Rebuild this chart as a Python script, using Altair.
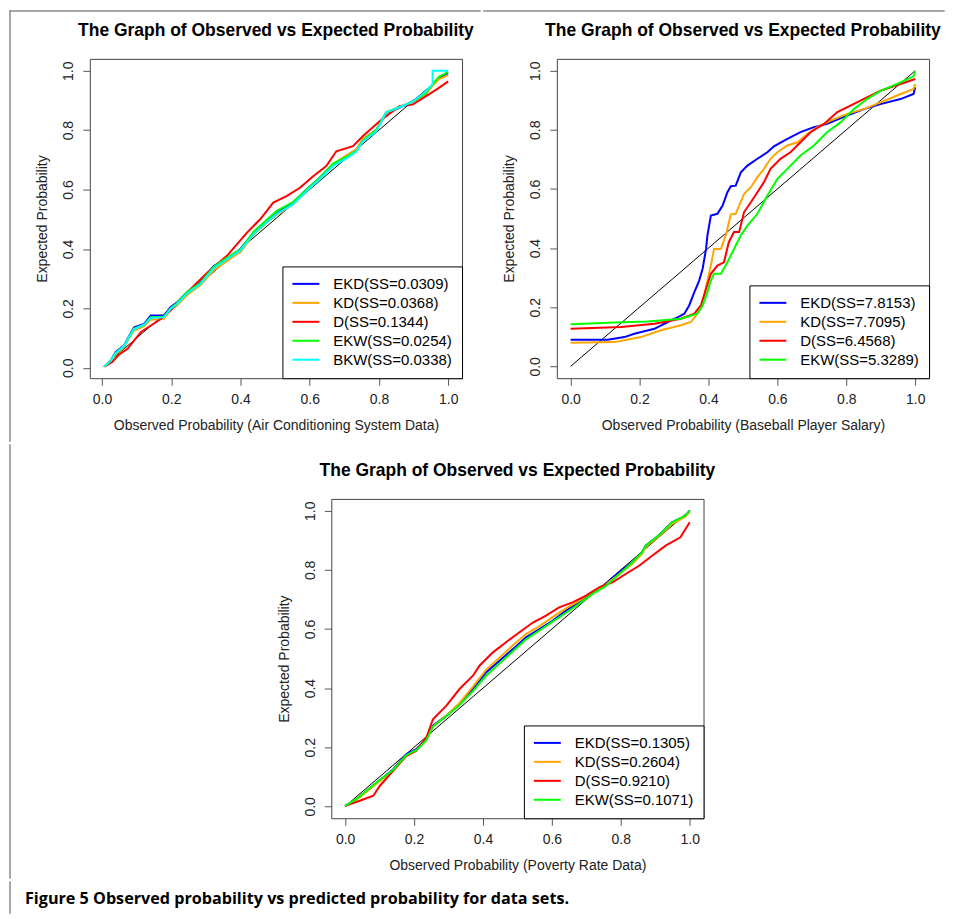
import altair as alt
import pandas as pd

FONT = "Liberation Sans"
TITLE = "The Graph of Observed vs Expected Probability"
Y_TITLE = "Expected Probability"
CAPTION = "Figure 5 Observed probability vs predicted probability for data sets."
TICKS = [0.0, 0.2, 0.4, 0.6, 0.8, 1.0]
COLORS = ["#0000FF", "#FFA500", "#FF0000", "#00FF00", "#00FFFF"]

# ---------------- Panel 1: Air Conditioning System Data ----------------
P1_NAMES = ["EKD(SS=0.0309)", "KD(SS=0.0368)", "D(SS=0.1344)", "EKW(SS=0.0254)", "BKW(SS=0.0338)"]
P1_X = [0.007, 0.026, 0.04, 0.064, 0.079, 0.093, 0.122, 0.141, 0.179, 0.198, 0.217, 0.246, 0.284,
        0.323, 0.38, 0.40, 0.438, 0.476, 0.505, 0.552, 0.591, 0.629, 0.668, 0.706, 0.735, 0.754,
        0.792, 0.821, 0.859, 0.897, 0.935, 0.955, 0.974, 1.0]
P1_EKD = [0.004, 0.025, 0.053, 0.075, 0.108, 0.136, 0.148, 0.176, 0.176, 0.204, 0.22, 0.254, 0.288,
          0.343, 0.383, 0.40, 0.455, 0.494, 0.522, 0.556, 0.60, 0.64, 0.684, 0.712, 0.735, 0.768,
          0.80, 0.858, 0.875, 0.897, 0.925, 0.953, 0.976, 0.992]
P1_KD = [0.004, 0.022, 0.045, 0.07, 0.10, 0.125, 0.14, 0.162, 0.165, 0.195, 0.21, 0.245, 0.278,
         0.328, 0.375, 0.39, 0.448, 0.488, 0.515, 0.55, 0.595, 0.637, 0.685, 0.715, 0.735, 0.77,
         0.80, 0.86, 0.878, 0.895, 0.92, 0.95, 0.972, 0.985]
P1_EKW = [0.004, 0.025, 0.05, 0.073, 0.105, 0.132, 0.145, 0.17, 0.172, 0.20, 0.218, 0.255, 0.285,
          0.34, 0.385, 0.398, 0.458, 0.498, 0.528, 0.558, 0.60, 0.64, 0.688, 0.71, 0.73, 0.765,
          0.80, 0.86, 0.877, 0.895, 0.923, 0.955, 0.98, 0.995]
P1_D_X = [0.007, 0.03, 0.05, 0.074, 0.112, 0.17, 0.20, 0.246, 0.304, 0.361, 0.419, 0.457, 0.495,
          0.533, 0.572, 0.61, 0.648, 0.677, 0.725, 0.754, 0.802, 0.821, 0.859, 0.897, 0.935, 0.97, 1.0]
P1_D = [0.004, 0.02, 0.045, 0.064, 0.12, 0.164, 0.195, 0.254, 0.32, 0.377, 0.455, 0.50, 0.556,
        0.578, 0.606, 0.645, 0.679, 0.729, 0.746, 0.78, 0.83, 0.847, 0.881, 0.886, 0.914, 0.94, 0.964]
P1_BKW_X = [0.007, 0.026, 0.04, 0.064, 0.079, 0.093, 0.122, 0.141, 0.179, 0.198, 0.217, 0.246, 0.284,
            0.323, 0.38, 0.40, 0.438, 0.476, 0.505, 0.552, 0.591, 0.629, 0.668, 0.706, 0.735, 0.754,
            0.792, 0.821, 0.859, 0.897, 0.935, 0.955, 0.955, 1.0]
P1_BKW = [0.004, 0.024, 0.05, 0.072, 0.105, 0.13, 0.145, 0.168, 0.17, 0.198, 0.215, 0.25, 0.282,
          0.335, 0.38, 0.395, 0.45, 0.49, 0.518, 0.55, 0.595, 0.635, 0.68, 0.705, 0.728, 0.762,
          0.795, 0.86, 0.877, 0.895, 0.93, 0.955, 1.0, 1.0]
P1_DIAG = [0.005, 1.0]

# ---------------- Panel 2: Baseball Player Salary ----------------
P2_NAMES = ["EKD(SS=7.8153)", "KD(SS=7.7095)", "D(SS=6.4568)", "EKW(SS=5.3289)"]
P2_EKD_X = [0.0, 0.108, 0.156, 0.185, 0.243, 0.282, 0.313, 0.33, 0.344, 0.359, 0.373, 0.383, 0.393,
            0.397, 0.407, 0.426, 0.441, 0.455, 0.465, 0.479, 0.494, 0.513, 0.542, 0.571, 0.59, 0.629,
            0.667, 0.706, 0.744, 0.802, 0.851, 0.899, 0.957, 0.995, 1.0]
P2_EKD = [0.09, 0.09, 0.099, 0.11, 0.127, 0.15, 0.167, 0.178, 0.206, 0.251, 0.29, 0.33, 0.397,
          0.443, 0.51, 0.516, 0.544, 0.589, 0.609, 0.611, 0.656, 0.679, 0.702, 0.724, 0.744, 0.769,
          0.792, 0.809, 0.82, 0.848, 0.87, 0.887, 0.904, 0.921, 0.944]
P2_KD_X = [0.0, 0.127, 0.204, 0.262, 0.32, 0.349, 0.368, 0.383, 0.397, 0.407, 0.416, 0.436, 0.45,
           0.465, 0.479, 0.503, 0.523, 0.542, 0.561, 0.58, 0.60, 0.629, 0.658, 0.687, 0.716, 0.754,
           0.802, 0.851, 0.899, 0.947, 0.995, 1.0]
P2_KD = [0.08, 0.082, 0.099, 0.122, 0.139, 0.15, 0.178, 0.212, 0.29, 0.341, 0.397, 0.397, 0.443,
         0.514, 0.516, 0.583, 0.606, 0.64, 0.668, 0.702, 0.724, 0.747, 0.758, 0.786, 0.809, 0.831,
         0.854, 0.87, 0.893, 0.916, 0.938, 0.955]
P2_D_X = [0.0, 0.147, 0.243, 0.32, 0.359, 0.378, 0.393, 0.407, 0.426, 0.445, 0.459, 0.474, 0.489,
          0.503, 0.523, 0.542, 0.561, 0.58, 0.609, 0.638, 0.667, 0.696, 0.735, 0.774, 0.812, 0.86,
          0.899, 0.957, 1.0]
P2_D = [0.127, 0.133, 0.144, 0.161, 0.178, 0.206, 0.262, 0.313, 0.341, 0.352, 0.42, 0.454, 0.454,
        0.521, 0.555, 0.589, 0.623, 0.668, 0.702, 0.724, 0.758, 0.792, 0.82, 0.86, 0.882, 0.91,
        0.932, 0.955, 0.972]
P2_EKW_X = [0.0, 0.127, 0.224, 0.32, 0.368, 0.383, 0.397, 0.407, 0.416, 0.436, 0.455, 0.474, 0.494,
            0.513, 0.542, 0.571, 0.60, 0.629, 0.667, 0.706, 0.744, 0.783, 0.822, 0.86, 0.899, 0.947,
            0.995, 1.0]
P2_EKW = [0.142, 0.148, 0.152, 0.161, 0.178, 0.206, 0.251, 0.29, 0.313, 0.313, 0.352, 0.397, 0.443,
          0.476, 0.516, 0.578, 0.634, 0.668, 0.713, 0.747, 0.792, 0.825, 0.87, 0.904, 0.932, 0.955,
          0.981, 0.998]
P2_DIAG = [0.0, 1.0]

# ---------------- Panel 3: Poverty Rate Data ----------------
P3_NAMES = ["EKD(SS=0.1305)", "KD(SS=0.2604)", "D(SS=0.9210)", "EKW(SS=0.1071)"]
P3_X = [0.0, 0.034, 0.092, 0.14, 0.178, 0.207, 0.236, 0.255, 0.294, 0.332, 0.371, 0.409, 0.448,
        0.487, 0.525, 0.564, 0.602, 0.641, 0.679, 0.717, 0.756, 0.795, 0.833, 0.862, 0.872, 0.91,
        0.949, 0.987, 1.0]
P3_EKD = [0.002, 0.025, 0.081, 0.126, 0.177, 0.194, 0.228, 0.273, 0.307, 0.346, 0.397, 0.453, 0.493,
          0.532, 0.572, 0.60, 0.628, 0.662, 0.69, 0.724, 0.752, 0.792, 0.826, 0.86, 0.882, 0.916,
          0.961, 0.983, 1.0]
P3_KD = [0.002, 0.023, 0.078, 0.122, 0.173, 0.19, 0.225, 0.27, 0.307, 0.35, 0.405, 0.462, 0.503,
         0.545, 0.583, 0.61, 0.64, 0.67, 0.695, 0.726, 0.75, 0.785, 0.82, 0.855, 0.878, 0.913,
         0.955, 0.98, 0.997]
P3_EKW = [0.002, 0.026, 0.082, 0.124, 0.174, 0.19, 0.224, 0.27, 0.305, 0.343, 0.39, 0.442, 0.483,
          0.525, 0.565, 0.595, 0.625, 0.655, 0.685, 0.718, 0.745, 0.785, 0.825, 0.86, 0.882, 0.916,
          0.961, 0.983, 1.0]
P3_D_X = [0.0, 0.043, 0.082, 0.101, 0.14, 0.178, 0.207, 0.236, 0.255, 0.294, 0.332, 0.371, 0.39,
          0.429, 0.467, 0.506, 0.545, 0.583, 0.621, 0.66, 0.699, 0.737, 0.776, 0.814, 0.853, 0.891,
          0.93, 0.973, 1.0]
P3_D = [0.002, 0.019, 0.036, 0.07, 0.121, 0.171, 0.188, 0.234, 0.295, 0.341, 0.397, 0.442, 0.476,
        0.521, 0.555, 0.589, 0.622, 0.645, 0.673, 0.69, 0.713, 0.741, 0.758, 0.786, 0.814, 0.848,
        0.882, 0.91, 0.961]
P3_DIAG = [0.0, 1.0]

FRAME_COLOR = "#8a8a8a"
ONE = pd.DataFrame({"k": [0]})
W, H = 373, 320
NO_STROKE = alt.ViewBackground(stroke="transparent", strokeWidth=0)


def panel(series, names, diag, xdomain, ydomain, xtitle, extras):
    colors = COLORS[:len(names)]
    xscale = alt.Scale(domain=xdomain, nice=False, zero=False)
    yscale = alt.Scale(domain=ydomain, nice=False, zero=False)
    xaxis = alt.Axis(values=TICKS, format=".1f", title=xtitle, domain=False, grid=False,
                     tickColor="#555", tickSize=7, tickWidth=1,
                     labelFont=FONT, labelFontSize=14, labelColor="#222", labelPadding=7,
                     titleFont=FONT, titleFontSize=14, titleFontWeight="normal",
                     titleColor="#222", titlePadding=12)
    yaxis = alt.Axis(values=TICKS, format=".1f", title=Y_TITLE, domain=False, grid=False,
                     tickColor="#555", tickSize=7, tickWidth=1,
                     labelFont=FONT, labelFontSize=14, labelColor="#222", labelPadding=14,
                     labelAngle=270, labelAlign="center", labelBaseline="middle",
                     titleFont=FONT, titleFontSize=14, titleFontWeight="normal",
                     titleColor="#222", titlePadding=12)
    X = alt.X("x:Q", scale=xscale, axis=xaxis)
    Y = alt.Y("y:Q", scale=yscale, axis=yaxis)
    legend = alt.Legend(orient="bottom-right", offset=0, title=None,
                        strokeColor="black", fillColor="white",
                        padding=10, rowPadding=3,
                        symbolType="M-3,0H3", symbolSize=81, symbolStrokeWidth=2,
                        symbolOffset=6, labelOffset=20,
                        labelFont=FONT, labelFontSize=15, labelColor="black", labelLimit=0)
    color_scale = alt.Scale(domain=names, range=colors)

    layers = [alt.Chart(pd.DataFrame({"x": diag, "y": diag}))
              .mark_line(color="black", strokeWidth=1)
              .encode(x=X, y=Y)]
    for name, xs, ys in series:
        df = pd.DataFrame({"x": xs, "y": ys, "series": [name] * len(xs), "i": list(range(len(xs)))})
        layers.append(
            alt.Chart(df).mark_line(strokeWidth=2).encode(
                x=X, y=Y, order="i:Q",
                color=alt.Color("series:N", scale=color_scale, legend=legend))
        )
    title = alt.Chart(ONE).mark_text(
        align="center", baseline="alphabetic", font=FONT, fontWeight="bold", fontSize=17.5,
        color="black",
    ).encode(x=alt.value(W / 2), y=alt.value(-22.5), text=alt.value(TITLE))
    layers.append(title)
    layers.extend(extras)
    return alt.layer(*layers).properties(width=W, height=H)


def vrule(x, y1, y2, opacity=1.0):
    return alt.Chart(ONE).mark_rule(color=FRAME_COLOR, strokeWidth=1.5, opacity=opacity,
                                    strokeCap="square").encode(
        x=alt.value(x), y=alt.value(y1), y2=alt.value(y2))


def hrule(x1, x2, y):
    return alt.Chart(ONE).mark_rule(color=FRAME_COLOR, strokeWidth=1.5, strokeCap="square").encode(
        x=alt.value(x1), x2=alt.value(x2), y=alt.value(y))


p1 = panel(
    [(P1_NAMES[0], P1_X, P1_EKD), (P1_NAMES[1], P1_X, P1_KD), (P1_NAMES[2], P1_D_X, P1_D),
     (P1_NAMES[3], P1_X, P1_EKW), (P1_NAMES[4], P1_BKW_X, P1_BKW)],
    P1_NAMES, P1_DIAG, [-0.035, 1.04], [-0.035, 1.04],
    "Observed Probability (Air Conditioning System Data)",
    [vrule(-80, -48, 383), hrule(-80, 391, -48)],
)

p2 = panel(
    [(P2_NAMES[0], P2_EKD_X, P2_EKD), (P2_NAMES[1], P2_KD_X, P2_KD), (P2_NAMES[2], P2_D_X, P2_D),
     (P2_NAMES[3], P2_EKW_X, P2_EKW)],
    P2_NAMES, P2_DIAG, [-0.04, 1.04], [-0.04, 1.04],
    "Observed Probability (Baseball Player Salary)",
    [hrule(-73, 388, -48)],
)

p3 = panel(
    [(P3_NAMES[0], P3_X, P3_EKD), (P3_NAMES[1], P3_X, P3_KD), (P3_NAMES[2], P3_D_X, P3_D),
     (P3_NAMES[3], P3_X, P3_EKW)],
    P3_NAMES, P3_DIAG, [-0.04, 1.04], [-0.04, 1.04],
    "Observed Probability (Poverty Rate Data)",
    [vrule(-70, 0, H, opacity=0.0)],
)

# spacer on the left of the bottom panel: carries the frame's left edge
spacer = alt.layer(vrule(-80, -54, 380)).properties(width=171, height=H, view=NO_STROKE)

# figure caption row
caption_text = alt.Chart(ONE).mark_text(
    align="left", baseline="alphabetic", font="Open Sans", fontWeight="bold", fontSize=16.2,
    color="black",
).encode(x=alt.value(-65), y=alt.value(21.5), text=alt.value(CAPTION))
caption_row = alt.layer(vrule(-80, 0, 31), caption_text).properties(width=1, height=1, view=NO_STROKE)

row1 = alt.hconcat(p1, p2, spacing=0).resolve_scale(color="independent", x="independent", y="independent")
row2 = alt.hconcat(spacer, p3, spacing=0).resolve_scale(color="independent", x="independent", y="independent")

chart = (
    alt.vconcat(row1, row2, caption_row, spacing=0)
    .resolve_scale(color="independent", x="independent", y="independent")
    .properties(padding=0)
    .configure_view(stroke="#444", strokeWidth=1)
)

chart.save("out.html", embed_options={"renderer": "svg", "actions": False})
